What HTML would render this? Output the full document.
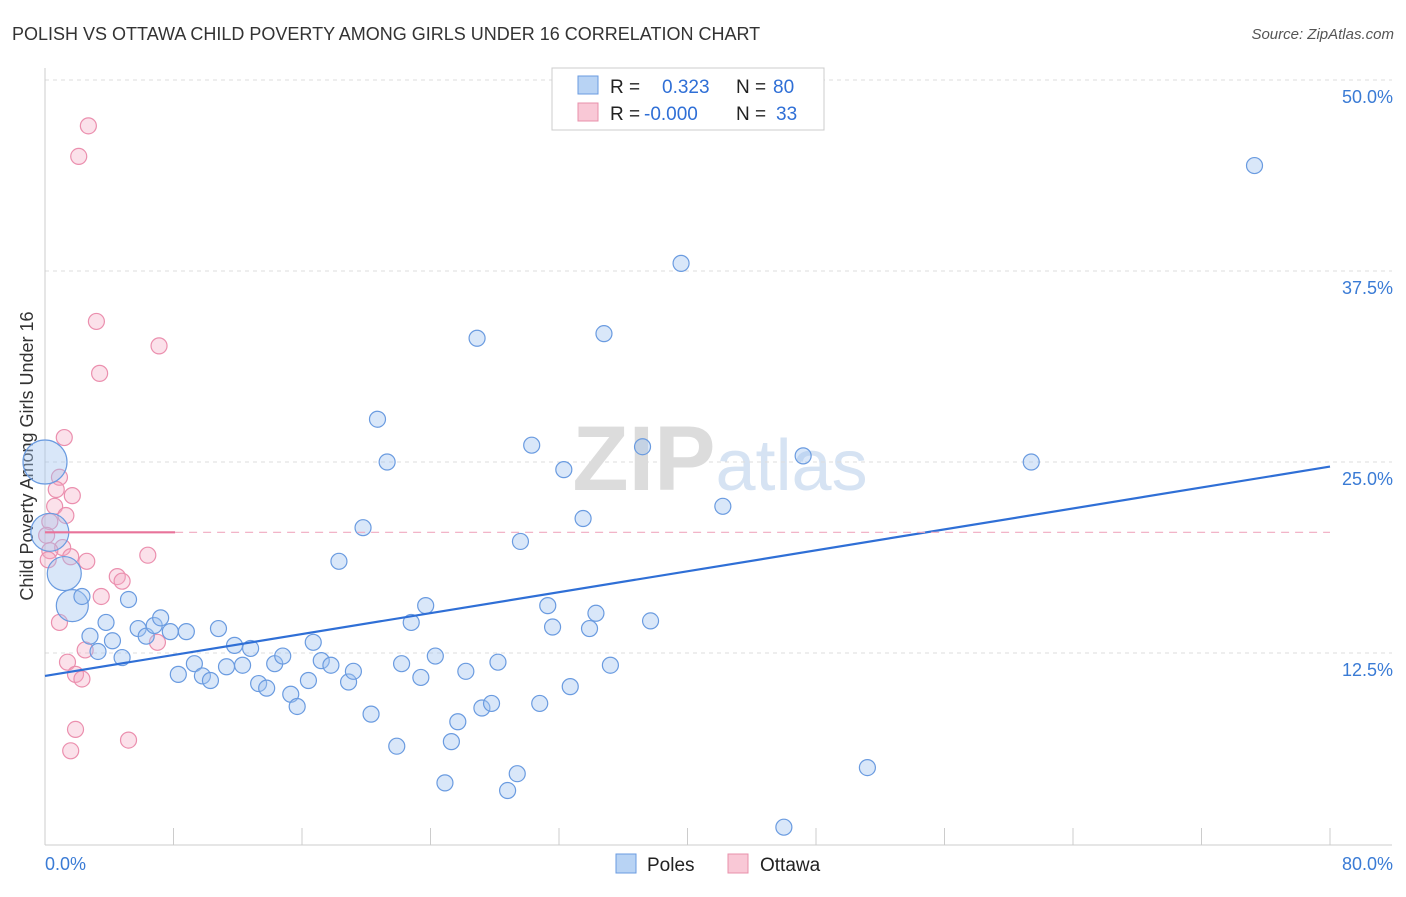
<!DOCTYPE html>
<html><head><meta charset="utf-8"><style>
body{margin:0;background:#fff;font-family:"Liberation Sans",sans-serif;}
svg text{font-family:"Liberation Sans",sans-serif;}
</style></head><body>
<svg id="chart" width="1406" height="892" xmlns="http://www.w3.org/2000/svg">
<text x="12" y="40" font-size="18" fill="#333">POLISH VS OTTAWA CHILD POVERTY AMONG GIRLS UNDER 16 CORRELATION CHART</text>
<text x="1394" y="39" font-size="15" fill="#555" text-anchor="end" font-style="italic">Source: ZipAtlas.com</text>
<text x="720" y="490" font-size="92" fill="#e4e4e4" text-anchor="middle" font-family="Liberation Serif"><tspan font-weight="bold" fill="#dcdcdc">ZIP</tspan><tspan fill="#d6e3f3" font-family="Liberation Sans" font-size="72">atlas</tspan></text>
<g id="grid"></g>
<g id="axes"></g>
<text transform="translate(33,456) rotate(-90)" font-size="18" fill="#333" text-anchor="middle">Child Poverty Among Girls Under 16</text>
<g id="marks"></g>
<g>
<rect x="552" y="68" width="272" height="62" fill="#fff" stroke="#ccc"/>
<rect x="578" y="76" width="20" height="18" fill="#b8d3f4" stroke="#6a9be0"/>
<rect x="578" y="103" width="20" height="18" fill="#f9c8d6" stroke="#e890ab"/>
<text x="610" y="93" font-size="19" fill="#222">R = <tspan x="662" fill="#2f6fd6">0.323</tspan><tspan x="736" fill="#222">N = </tspan><tspan x="773" fill="#2f6fd6">80</tspan></text>
<text x="610" y="120" font-size="19" fill="#222">R = <tspan x="644" fill="#2f6fd6">-0.000</tspan><tspan x="736" fill="#222">N = </tspan><tspan x="776" fill="#2f6fd6">33</tspan></text>
</g>
<g>
<rect x="616" y="854" width="20" height="19" fill="#b8d3f4" stroke="#6a9be0"/>
<text x="647" y="871" font-size="19" fill="#222">Poles</text>
<rect x="728" y="854" width="20" height="19" fill="#f9c8d6" stroke="#e890ab"/>
<text x="760" y="871" font-size="19" fill="#222">Ottawa</text>
</g>
</svg>
<script>
const yTicks=[12.5,25.0,37.5,50.0];
const xTickLabels=["0.0%","80.0%"];
const polesX=[75.3,39.6,26.9,34.8,20.7,30.3,37.2,21.3,32.3,47.2,61.4,42.2,33.5,19.8,29.6,18.3,2.3,2.8,3.8,4.2,3.3,4.8,5.2,5.8,6.3,6.8,7.2,7.8,8.8,8.3,9.3,9.8,10.3,10.8,11.3,11.8,12.3,12.8,13.3,13.8,14.3,14.8,15.3,15.7,16.4,16.7,17.2,17.8,18.9,19.2,20.3,21.9,22.2,22.8,23.4,23.7,24.3,24.9,25.3,25.7,26.2,27.2,27.8,28.2,28.8,29.4,30.8,31.3,31.6,32.7,33.9,34.3,35.2,37.7,46.0,51.2];
const polesY=[44.4,38.0,33.1,33.4,27.8,26.1,26.0,25.0,24.5,25.4,25.0,22.1,21.3,20.7,19.8,18.5,16.2,13.6,14.5,13.3,12.6,12.2,16.0,14.1,13.6,14.3,14.8,13.9,13.9,11.1,11.8,11.0,10.7,14.1,11.6,13.0,11.7,12.8,10.5,10.2,11.8,12.3,9.8,9.0,10.7,13.2,12.0,11.7,10.6,11.3,8.5,6.4,11.8,14.5,10.9,15.6,12.3,4.0,6.7,8.0,11.3,8.9,9.2,11.9,3.5,4.6,9.2,15.6,14.2,10.3,14.1,15.1,11.7,14.6,1.1,5.0];
const bigX=[0.0,0.3,1.2,1.7];
const bigY=[25.0,20.4,17.7,15.6];
const bigR=[22,19,17,16];
const ottX=[2.7,2.1,3.2,7.1,3.4,1.2,0.9,0.7,1.7,0.6,1.3,0.3,0.1,1.1,0.3,1.6,0.2,2.6,6.4,4.5,4.8,3.5,0.9,7.0,2.5,1.4,1.9,2.3,1.9,1.6,5.2];
const ottY=[47.0,45.0,34.2,32.6,30.8,26.6,24.0,23.2,22.8,22.1,21.5,21.1,20.2,19.4,19.2,18.8,18.6,18.5,18.9,17.5,17.2,16.2,14.5,13.2,12.7,11.9,11.1,10.8,7.5,6.1,6.8];
const polesTrend=[11.0,24.7];
const ottTrend=20.4;
const NS="http://www.w3.org/2000/svg";
const X=v=>45+v/80*1285;
const Y=v=>844-v/12.5*191;
function mk(tag,attrs,parent){const e=document.createElementNS(NS,tag);for(const k in attrs)e.setAttribute(k,attrs[k]);document.getElementById(parent).appendChild(e);return e;}
const grid="grid",axes="axes",marks="marks";
mk('line',{x1:45,x2:1392,y1:Y(50)+0,y2:Y(50),stroke:'#ddd','stroke-dasharray':'4,4'},grid);
yTicks.forEach(t=>{
 const l=mk('line',{x1:45,x2:1392,y1:Y(t),y2:Y(t),stroke:'#ddd','stroke-dasharray':'4,4'},grid);
 
 
 const tx=mk('text',{x:1393,y:Y(t)+23,'font-size':18,fill:'#3a7bd5','text-anchor':'end'},axes);
 tx.textContent=t.toFixed(1)+'%';
 
 
});
mk('line',{x1:45,x2:45,y1:68,y2:845,stroke:'#ccc'},axes);
mk('line',{x1:45,x2:1392,y1:845,y2:845,stroke:'#ccc'},axes);
for(let i=0;i<=10;i++){mk('line',{x1:X(i*8),x2:X(i*8),y1:828,y2:845,stroke:'#ccc'},axes);}
const xl0=mk('text',{x:45,y:870,'font-size':18,fill:'#3a7bd5'},axes);xl0.textContent=xTickLabels[0];


const xl1=mk('text',{x:1393,y:870,'font-size':18,fill:'#3a7bd5','text-anchor':'end'},axes);xl1.textContent=xTickLabels[1];


ottX.forEach((v,i)=>{const c=mk('circle',{cx:X(v),cy:Y(ottY[i]),r:8,fill:'rgba(244,170,195,0.35)',stroke:'#eb8fae','stroke-width':1.2},marks);
 
 });
bigX.forEach((v,i)=>{const c=mk('circle',{cx:X(v),cy:Y(bigY[i]),r:bigR[i],fill:'rgba(160,195,240,0.4)',stroke:'#6a9be0','stroke-width':1.2},marks);
 
 });
polesX.forEach((v,i)=>{const c=mk('circle',{cx:X(v),cy:Y(polesY[i]),r:8,fill:'rgba(160,195,240,0.4)',stroke:'#6a9be0','stroke-width':1.2},marks);
 
 });
const t1=mk('line',{x1:X(0),x2:X(80),y1:Y(polesTrend[0]),y2:Y(polesTrend[1]),stroke:'#2f6fd6','stroke-width':2.2},marks);


const t2=mk('line',{x1:X(0),x2:X(8.1),y1:Y(ottTrend),y2:Y(ottTrend),stroke:'#e8739a','stroke-width':2.2},marks);


const t3=mk('line',{x1:X(8.1),x2:X(80),y1:Y(ottTrend),y2:Y(ottTrend),stroke:'#f0a9c0','stroke-width':1.2,'stroke-dasharray':'8,6'},marks);


</script>
</body></html>
